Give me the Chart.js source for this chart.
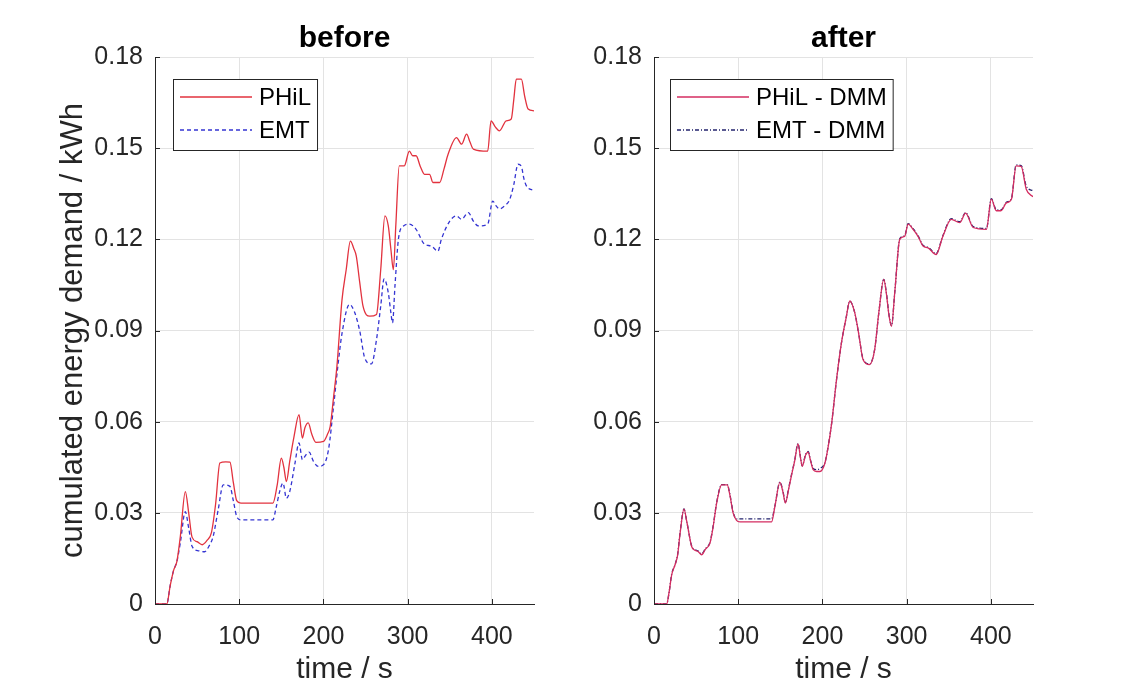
<!DOCTYPE html>
<html><head><meta charset="utf-8">
<script src="https://cdn.jsdelivr.net/npm/chart.js@4.4.1/dist/chart.umd.min.js"></script>
<style>
html,body{margin:0;padding:0;background:#fff;width:1131px;height:679px;overflow:hidden}
#w1{position:absolute;left:0;top:0;width:565px;height:679px}
#w2{position:absolute;left:565px;top:0;width:566px;height:679px}
</style></head><body>
<div id="w1"><canvas id="c1"></canvas></div>
<div id="w2"><canvas id="c2"></canvas></div>
<script>
// ---- tick labels / axes ----
const xTickValues = [0, 100, 200, 300, 400];
const yTickValues = [0, 0.03, 0.06, 0.09, 0.12, 0.15, 0.18];
const titles = ["before", "after"];
const xTitle = "time / s";
const yTitle = "cumulated energy demand / kWh";
const labelsBefore = ["PHiL", "EMT"];
const labelsAfter = ["PHiL - DMM", "EMT - DMM"];

// ---- "before" : PHiL ----
const tBeforePhil = [0,14,18,22,26,30,36,40,44,50,56,62,67,72,77,84,89,93,97,102,140,145,150,153,156,160,165,171,175,178,182,186,191,200,205,208,212,216,222,227,232,236,239,243,247,255,263,268,273,277,280,283,286,290,296,302,306,310,315,320,326,330,338,343,348,358,364,370,374,378,395,399,404,409,417,423,426,429,435,439,443,450];
const vBeforePhil = [0,0,0.006,0.011,0.014,0.022,0.037,0.030,0.022,0.0205,0.0195,0.021,0.0235,0.033,0.0464,0.0468,0.0467,0.040,0.034,0.0332,0.0332,0.039,0.048,0.045,0.0403,0.047,0.055,0.0623,0.0546,0.058,0.0596,0.056,0.0532,0.0535,0.056,0.0584,0.068,0.0782,0.100,0.110,0.1194,0.117,0.1145,0.106,0.098,0.0947,0.0953,0.110,0.1277,0.1244,0.117,0.110,0.125,0.1442,0.1442,0.149,0.1475,0.1475,0.144,0.1414,0.1414,0.1387,0.1387,0.143,0.148,0.1535,0.1513,0.1546,0.152,0.1497,0.149,0.159,0.157,0.1557,0.159,0.1596,0.166,0.1727,0.1727,0.167,0.1629,0.1623];

// ---- "before" : EMT ----
const tBeforeEmt = [0,14,18,22,26,30,36,40,44,52,59,64,69,75,81,89,93,97,102,140,144,148,152,156,160,166,171,175,179,183,188,194,200,206,212,217,222,231,237,243,249,257,263,268,272,277,280,282,285,289,295,302,310,320,328,336,340,350,358,364,372,378,384,395,401,405,409,415,421,426,431,435,438,441,450];
const vBeforeEmt = [0,0,0.006,0.011,0.014,0.020,0.0304,0.025,0.019,0.0175,0.0172,0.019,0.0222,0.031,0.0392,0.0387,0.034,0.0288,0.0277,0.0277,0.032,0.037,0.0398,0.0348,0.037,0.046,0.053,0.0475,0.049,0.050,0.047,0.0453,0.0458,0.0508,0.065,0.078,0.089,0.0986,0.096,0.090,0.081,0.079,0.087,0.098,0.107,0.1024,0.096,0.0925,0.105,0.120,0.1244,0.125,0.1233,0.1184,0.1178,0.1161,0.120,0.126,0.1277,0.1266,0.1288,0.126,0.1244,0.125,0.1326,0.131,0.130,0.131,0.133,0.138,0.1447,0.144,0.140,0.1376,0.136];

// ---- "after" : PHiL - DMM ----
const tAfterPhil = [0,15,18,21,25,28,31,35.6,39,44.7,48,52.6,56.5,61,66.4,70,74.4,80.3,87,90,94,98,102,139.6,143.5,149.5,153,156,160,163,167,171,174,176,180,183,186,189,193,197,203,207,211,216.7,222.6,228,232.5,238.4,243,248.3,256,262,267,272.8,276,279,282,286,291.8,297.7,301.7,307.6,313.5,319.5,325.4,335,343,353,363,370,379,394.7,400.5,406.5,412,418.4,424.4,430,436,442,450];
const vAfterPhil = [0,0,0.004,0.0096,0.0129,0.016,0.0233,0.0312,0.027,0.0189,0.0178,0.0172,0.0162,0.018,0.020,0.025,0.0332,0.0392,0.0392,0.036,0.0299,0.0275,0.027,0.027,0.032,0.040,0.037,0.0332,0.038,0.042,0.047,0.0527,0.048,0.0453,0.049,0.050,0.047,0.0442,0.0436,0.0436,0.0464,0.052,0.0596,0.0738,0.086,0.094,0.0997,0.0958,0.089,0.0804,0.0788,0.0837,0.096,0.1068,0.102,0.095,0.0914,0.103,0.120,0.121,0.125,0.1233,0.121,0.1178,0.1172,0.115,0.121,0.1266,0.1255,0.1286,0.1239,0.1233,0.1332,0.1294,0.1294,0.132,0.1332,0.1442,0.144,0.1365,0.134];

// ---- "after" : EMT - DMM ----
const tAfterEmt = [0,15,18,21,25,28,31,35.6,39,44.7,48,52.6,56.5,61,66.4,70,74.4,80.3,87,90,94,98,102,139.6,143.5,149.5,153,156,160,163,167,171,174,176,180,183,186,189,193,197,203,207,211,216.7,222.6,228,232.5,238.4,243,248.3,256,262,267,272.8,276,279,282,286,291.8,297.7,301.7,307.6,313.5,319.5,325.4,335,343,353,363,370,379,394.7,400.5,406.5,412,418.4,424.4,430,436,442,450];
const vAfterEmt = [0,0,0.004,0.0098,0.013,0.0162,0.0235,0.0313,0.027,0.0191,0.018,0.0174,0.0165,0.0182,0.0203,0.0253,0.0334,0.0393,0.0393,0.0362,0.0302,0.028,0.028,0.028,0.0322,0.0401,0.0372,0.0335,0.0383,0.0422,0.0472,0.0528,0.0482,0.0455,0.0492,0.0502,0.0472,0.0446,0.0442,0.0446,0.0466,0.0522,0.0597,0.0738,0.086,0.094,0.0997,0.0958,0.089,0.0806,0.079,0.0838,0.096,0.1068,0.1022,0.0952,0.0916,0.103,0.1202,0.1212,0.1252,0.1235,0.1212,0.118,0.1174,0.1153,0.1212,0.1268,0.1258,0.1288,0.1242,0.1236,0.1334,0.1297,0.1297,0.1322,0.1334,0.1445,0.1443,0.1375,0.136];

const pts = (t, v) => t.map((x, i) => ({x: x, y: v[i]}));
const FONT = "'Liberation Sans', Arial, Helvetica, sans-serif";
const TXT = '#262626';

const insideLegend = {
  id: 'insideLegend',
  afterDraw(chart, args, o) {
    const ctx = chart.ctx;
    ctx.save();
    ctx.font = '24px ' + FONT;
    const ds = chart.data.datasets;
    let tw = 0;
    ds.forEach(d => { tw = Math.max(tw, ctx.measureText(d.label).width); });
    const w = 8 + 72 + 6 + tw + 6, h = 71;
    const x = o.x, y = o.y;
    ctx.fillStyle = '#fff';
    ctx.fillRect(x, y, w, h);
    ctx.strokeStyle = TXT; ctx.lineWidth = 1;
    ctx.strokeRect(Math.round(x) + 0.5, Math.round(y) + 0.5, w, h);
    ds.forEach((d, i) => {
      const ly = y + 18 + i * 33;
      ctx.beginPath();
      ctx.setLineDash(d.borderDash || []);
      ctx.strokeStyle = d.borderColor; ctx.lineWidth = d.borderWidth;
      ctx.moveTo(x + 7, ly); ctx.lineTo(x + 79, ly); ctx.stroke();
      ctx.setLineDash([]);
      ctx.fillStyle = '#000'; ctx.textBaseline = 'middle'; ctx.textAlign = 'left';
      ctx.fillText(d.label, x + 86, ly + 1);
    });
    ctx.restore();
  }
};

const inTicks = {
  id: 'inTicks',
  afterDatasetsDraw(chart) {
    const ctx = chart.ctx, a = chart.chartArea;
    const xs = chart.scales.x, ys = chart.scales.y;
    ctx.save();
    ctx.strokeStyle = TXT; ctx.lineWidth = 1;
    ctx.beginPath();
    xs.ticks.forEach(t => {
      const px = Math.round(xs.getPixelForValue(t.value)) + 0.5;
      ctx.moveTo(px, a.bottom); ctx.lineTo(px, a.bottom - 5);
    });
    ys.ticks.forEach(t => {
      const py = Math.round(ys.getPixelForValue(t.value)) + 0.5;
      ctx.moveTo(a.left, py); ctx.lineTo(a.left + 5, py);
    });
    ctx.stroke();
    ctx.restore();
  }
};

function makeChart(id, title, datasets, yWidth, rightPad, showYTitle, legendPos) {
  return new Chart(document.getElementById(id), {
    type: 'line',
    data: {datasets: datasets},
    plugins: [insideLegend, inTicks],
    options: {
      responsive: true, maintainAspectRatio: false, animation: false,
      layout: {padding: {left: 0, right: rightPad, top: 0, bottom: 0}},
      elements: {point: {radius: 0}, line: {cubicInterpolationMode: 'monotone'}},
      plugins: {
        legend: {display: false}, tooltip: {enabled: false},
        title: {display: true, text: title, fullSize: false, color: '#000',
          font: {family: FONT, size: 30, weight: 'bold', lineHeight: 1.2},
          padding: {top: 21, bottom: 0}},
        insideLegend: legendPos
      },
      scales: {
        x: {
          type: 'linear', min: 0, max: 450,
          afterBuildTicks: s => { s.ticks = xTickValues.map(v => ({value: v})); },
          afterFit: s => { s.height = 75; },
          ticks: {color: TXT, font: {family: FONT, size: 25}, padding: 18, maxRotation: 0,
            callback: v => String(v)},
          grid: {color: '#e3e3e3', drawTicks: false, tickLength: 0},
          border: {color: TXT, width: 1},
          title: {display: true, text: xTitle, color: TXT,
            font: {family: FONT, size: 30, lineHeight: 1}, padding: {top: 0, bottom: -6}}
        },
        y: {
          type: 'linear', min: 0, max: 0.18,
          afterBuildTicks: s => { s.ticks = yTickValues.map(v => ({value: v})); },
          afterFit: s => { s.width = yWidth; },
          ticks: {color: TXT, font: {family: FONT, size: 25}, padding: 12,
            callback: v => (v === 0 ? '0' : v.toFixed(2))},
          grid: {color: '#e3e3e3', drawTicks: false, tickLength: 0},
          border: {color: TXT, width: 1},
          title: {display: showYTitle, text: yTitle, color: TXT,
            font: {family: FONT, size: 31, lineHeight: 1.2}, padding: {top: 55, bottom: 0}}
        }
      }
    }
  });
}

makeChart('c1', titles[0], [
  {label: labelsBefore[0], data: pts(tBeforePhil, vBeforePhil), borderColor: '#e2323e', borderWidth: 1.3, fill: false},
  {label: labelsBefore[1], data: pts(tBeforeEmt, vBeforeEmt), borderColor: '#3434d2', borderWidth: 1.3, borderDash: [4, 3], fill: false}
], 155, 31, true, {x: 173, y: 79});

makeChart('c2', titles[1], [
  {label: labelsAfter[0], data: pts(tAfterPhil, vAfterPhil), borderColor: '#d42c60', borderWidth: 1.3, fill: false},
  {label: labelsAfter[1], data: pts(tAfterEmt, vAfterEmt), borderColor: '#24246e', borderWidth: 1.3, borderDash: [4, 2, 1, 2], fill: false}
], 89, 98, false, {x: 105, y: 79});
</script>
</body></html>
